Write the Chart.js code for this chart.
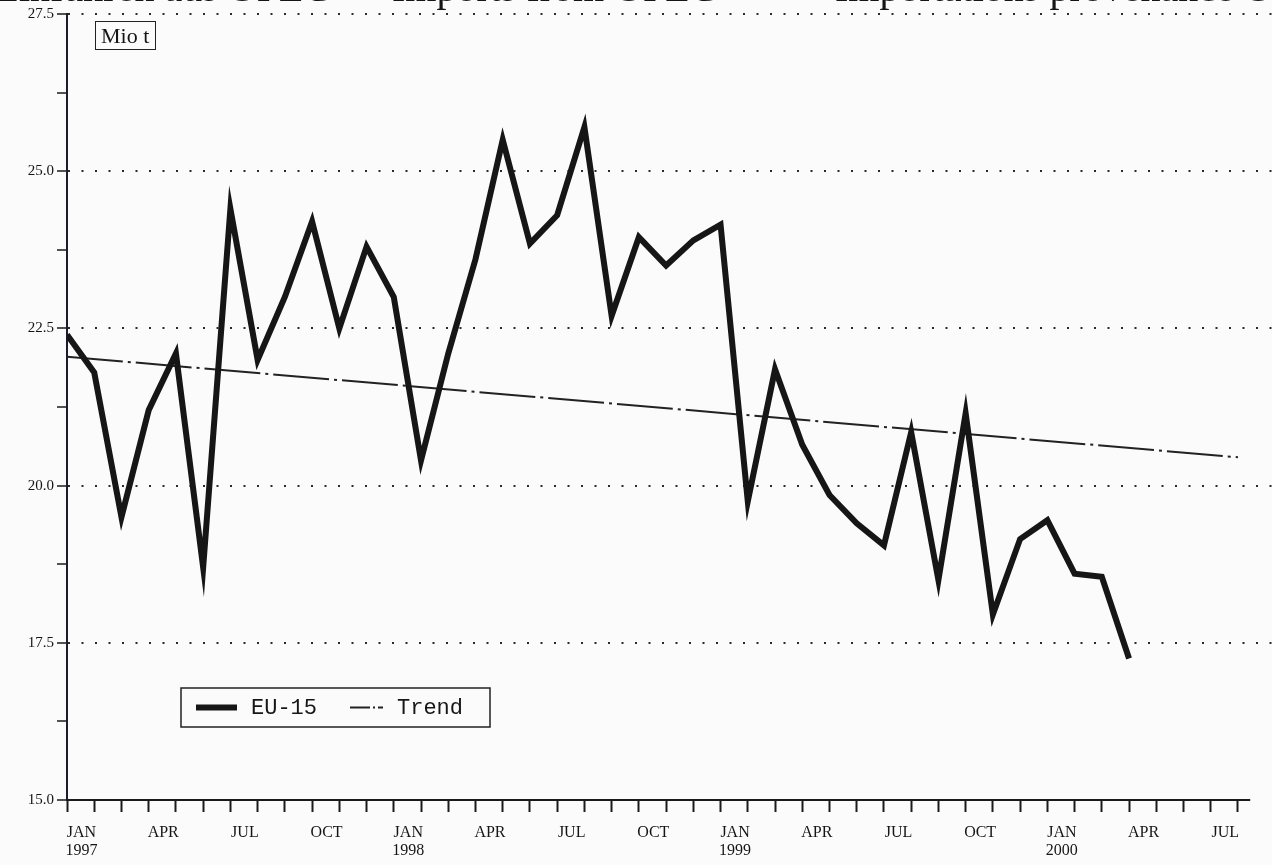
<!DOCTYPE html>
<html>
<head>
<meta charset="utf-8">
<script src="https://cdn.jsdelivr.net/npm/chart.js@4.4.1/dist/chart.umd.min.js"></script>
<style>
  html, body { margin: 0; padding: 0; background: #fbfbfb; overflow: hidden; }
  #wrap { position: relative; width: 1272px; height: 865px; overflow: hidden; }
  canvas { position: absolute; left: 0; top: 0; }
  .head {
    position: absolute; top: -36px; line-height: 1; white-space: nowrap;
    font: 40px 'Liberation Serif', 'Times New Roman', serif; color: #151515;
  }
  #unit {
    position: absolute; left: 95px; top: 21px; padding: 1px 6px 0 5px;
    border: 1.5px solid #222; line-height: 1.1;
    font: 22px 'Liberation Serif', 'Times New Roman', serif; color: #151515;
  }
</style>
</head>
<body>
<div id="wrap">
  <canvas id="chart" width="1272" height="865"></canvas>
  <div class="head" style="right: 942px">Einfuhren aus OPEC</div>
  <div class="head" style="left: 392px">Imports from OPEC</div>
  <div class="head" style="left: 835px">Importations provenance OPEP</div>
  <div id="unit">Mio t</div>
</div>
<script>
// Monthly imports, JAN 1997 .. APR 2000 (index 0 = JAN 1997)
const firstYear = 1997
const eu15 = [
  22.4, 21.8, 19.5, 21.2, 22.1, 18.7, 24.4, 22.0, 23.0, 24.2, 22.5, 23.8,
  23.0, 20.4, 22.1, 23.6, 25.5, 23.85, 24.3, 25.7, 22.7, 23.95, 23.5, 23.9,
  24.15, 19.75, 21.85, 20.65, 19.85, 19.4, 19.05, 20.85, 18.5, 21.15, 17.95, 19.15,
  19.45, 18.6, 18.55, 17.25
]
// Trend line end points (month index, value)
const trendMonths = [0, 43]
const trendValues = [22.05, 20.45]

const monthNames = ['JAN', 'FEB', 'MAR', 'APR', 'MAY', 'JUN', 'JUL', 'AUG', 'SEP', 'OCT', 'NOV', 'DEC']
const tickCount = 44 // JAN 1997 .. AUG 2000
const yTicks = [15, 16.25, 17.5, 18.75, 20, 21.25, 22.5, 23.75, 25, 26.25, 27.5]

const serif = "'Liberation Serif', 'Times New Roman', serif"
const ink = '#161616'

// Boxed legend sitting inside the plot, like the original print
const boxLegend = {
  id: 'boxLegend',
  afterDraw (chart) {
    const { ctx } = chart
    const x0 = 181
    const y0 = 688
    const w = 309
    const h = 39
    ctx.save()
    ctx.fillStyle = '#fbfbfb'
    ctx.fillRect(x0, y0, w, h)
    ctx.strokeStyle = '#222'
    ctx.lineWidth = 1.5
    ctx.strokeRect(x0, y0, w, h)
    ctx.font = "22px 'Liberation Mono', 'Courier New', monospace"
    ctx.textBaseline = 'middle'
    ctx.fillStyle = ink
    const cy = y0 + h / 2
    const items = [
      { ds: chart.data.datasets[0], x: 196, len: 41, dash: [] },
      { ds: chart.data.datasets[1], x: 350, len: 33, dash: [20, 3, 2, 3] }
    ]
    items.forEach(it => {
      ctx.beginPath()
      ctx.setLineDash(it.dash)
      ctx.lineWidth = it.ds.borderWidth
      ctx.strokeStyle = it.ds.borderColor
      ctx.moveTo(it.x, cy)
      ctx.lineTo(it.x + it.len, cy)
      ctx.stroke()
      ctx.setLineDash([])
      ctx.fillText(it.ds.label, it.x + it.len + 14, cy + 1)
    })
    ctx.restore()
  }
}

// Bottom axis line stops a little past the last month tick
const xAxisLine = {
  id: 'xAxisLine',
  afterDatasetsDraw (chart) {
    const { ctx, scales: { x } } = chart
    ctx.save()
    ctx.strokeStyle = '#1a1a1a'
    ctx.lineWidth = 2
    ctx.beginPath()
    ctx.moveTo(x.getPixelForValue(0) - 1, x.top)
    ctx.lineTo(x.getPixelForValue(43.45), x.top)
    ctx.stroke()
    ctx.restore()
  }
}

new Chart(document.getElementById('chart'), {
  type: 'line',
  data: {
    datasets: [
      {
        label: 'EU-15',
        data: eu15.map((v, i) => ({ x: i, y: v })),
        borderColor: ink,
        borderWidth: 6,
        borderJoinStyle: 'miter',
        borderCapStyle: 'butt',
        pointRadius: 0,
        tension: 0
      },
      {
        label: 'Trend',
        data: trendMonths.map((m, i) => ({ x: m, y: trendValues[i] })),
        borderColor: '#222',
        borderWidth: 2,
        borderDash: [56, 5, 3, 5],
        pointRadius: 0,
        tension: 0
      }
    ]
  },
  options: {
    responsive: false,
    devicePixelRatio: 1,
    animation: false,
    layout: { padding: { top: 14, right: 0, bottom: 0, left: 0 } },
    plugins: {
      legend: { display: false },
      tooltip: { enabled: false }
    },
    scales: {
      x: {
        type: 'linear',
        min: 0,
        max: 44.25,
        afterBuildTicks: (scale) => {
          scale.ticks = Array.from({ length: tickCount }, (_, i) => ({ value: i }))
        },
        afterFit: (scale) => { scale.height = 65 },
        grid: {
          drawOnChartArea: false,
          drawTicks: true,
          tickLength: 12,
          tickColor: '#1a1a1a',
          tickWidth: 2
        },
        border: { display: false },
        ticks: {
          autoSkip: false,
          maxRotation: 0,
          labelOffset: 14.5,
          padding: 12,
          color: '#151515',
          font: { family: serif, size: 16, lineHeight: 1.1 },
          callback: (value) => {
            const i = Math.round(value)
            if (i % 3 !== 0) return ''
            const name = monthNames[i % 12]
            return i % 12 === 0 ? [name, String(firstYear + i / 12)] : name
          }
        }
      },
      y: {
        min: 15,
        max: 27.5,
        afterBuildTicks: (scale) => {
          scale.ticks = yTicks.map(v => ({ value: v }))
        },
        afterFit: (scale) => { scale.width = 67 },
        grid: {
          color: (ctx) => {
            const v = ctx.tick ? ctx.tick.value : 0
            return (v % 2.5 === 0 && v !== 15) ? '#2a2a2a' : 'rgba(0,0,0,0)'
          },
          lineWidth: 2,
          drawTicks: true,
          tickLength: 10,
          tickColor: '#1a1a1a',
          tickWidth: 1.5,
          tickBorderDash: []
        },
        border: { display: true, color: '#1c1c30', width: 2, dash: [2, 11.5] },
        ticks: {
          padding: 3,
          color: '#151515',
          font: { family: serif, size: 15 },
          callback: (value) => (value % 2.5 === 0 ? value.toFixed(1) : '')
        }
      }
    }
  },
  plugins: [boxLegend, xAxisLine]
})
</script>
</body>
</html>
